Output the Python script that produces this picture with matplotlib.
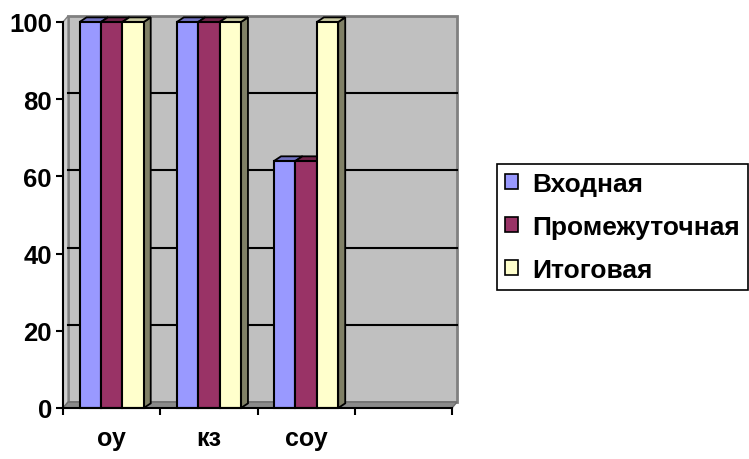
import matplotlib
matplotlib.use("Agg")
import matplotlib.pyplot as plt
from matplotlib.patches import Polygon, Patch

plt.rcParams['font.family'] = ['Liberation Sans', 'DejaVu Sans']
plt.rcParams['font.weight'] = 'bold'

categories = ['оу', 'кз', 'соу', '']
series_names = ['Входная', 'Промежуточная', 'Итоговая']
vhodnaya = [100, 100, 64]
promezh = [100, 100, 64]
itogovaya = [100, 100, 100]
values = [vhodnaya, promezh, itogovaya]

front_colors = ['#9999FF', '#993366', '#FFFFCC']
top_colors = ['#7070C0', '#70244A', '#C8C8A0']
side_colors = ['#5C5C99', '#5C1F3D', '#808066']

fig = plt.figure(figsize=(7.49, 4.60), dpi=100)
ax = fig.add_axes([63 / 749, 51 / 460, 389 / 749, 386 / 460])
ax.set_xlim(-0.5, 3.5)
ax.set_ylim(0, 100)

# 3d offsets (data units)
wdx, wdy = 0.052, 1.55     # walls
bdx, bdy = 0.072, 1.2      # bars
bw = 0.22

# back wall
ax.add_patch(Polygon([(-0.5 + wdx, wdy), (3.5 + wdx, wdy), (3.5 + wdx, 100 + wdy),
                      (-0.5 + wdx, 100 + wdy)], closed=True, facecolor='#C0C0C0',
                     edgecolor='#808080', lw=2, clip_on=False, zorder=1))
# left side wall
ax.add_patch(Polygon([(-0.5, 0), (-0.5, 100), (-0.5 + wdx, 100 + wdy), (-0.5 + wdx, wdy)],
                     closed=True, facecolor='#CFCFCF', edgecolor='#808080', lw=1,
                     clip_on=False, zorder=1.5))
# floor
ax.add_patch(Polygon([(-0.5, 0), (3.5, 0), (3.5 + wdx, wdy), (-0.5 + wdx, wdy)],
                     closed=True, facecolor='#8A8A8A', edgecolor='#6E6E6E', lw=1,
                     clip_on=False, zorder=1.5))
# gridlines on wall
for v in [20, 40, 60, 80]:
    ax.plot([-0.5 + wdx, 3.5 + wdx], [v + wdy, v + wdy], color='black', lw=1.5,
            clip_on=False, zorder=2)

# bars
for ci in range(len(vhodnaya)):
    for si in range(3):
        v = values[si][ci]
        x0 = ci - 1.5 * bw + si * bw
        x1 = x0 + bw
        side = Polygon([(x1, 0), (x1 + bdx, bdy), (x1 + bdx, v + bdy), (x1, v)],
                       closed=True, facecolor=side_colors[si], edgecolor='black',
                       lw=1.3, clip_on=False, zorder=3)
        top = Polygon([(x0, v), (x0 + bdx, v + bdy), (x1 + bdx, v + bdy), (x1, v)],
                      closed=True, facecolor=top_colors[si], edgecolor='black',
                      lw=1.3, clip_on=False, zorder=3)
        front = Polygon([(x0, 0), (x1, 0), (x1, v), (x0, v)], closed=True,
                        facecolor=front_colors[si], edgecolor='black', lw=1.5,
                        clip_on=False, zorder=3)
        ax.add_patch(side)
        ax.add_patch(top)
        ax.add_patch(front)

for s in ['top', 'right']:
    ax.spines[s].set_visible(False)
for s in ['left', 'bottom']:
    ax.spines[s].set_linewidth(1.5)
    ax.spines[s].set_zorder(4)

ax.set_yticks([0, 20, 40, 60, 80, 100])
ax.tick_params(axis='y', direction='out', length=5, width=1.5, labelsize=18.5, pad=3)
ax.set_xticks([-0.5, 0.5, 1.5, 2.5, 3.5])
ax.set_xticklabels([])
ax.tick_params(axis='x', which='major', direction='out', length=5, width=1.5)
ax.set_xticks([0, 1, 2, 3], minor=True)
ax.set_xticklabels(categories, minor=True)
ax.tick_params(axis='x', which='minor', length=0, labelsize=18, pad=13)
for lab in ax.get_yticklabels() + ax.get_xticklabels(minor=True):
    lab.set_fontweight('bold')

handles = [Patch(facecolor=c, edgecolor='black', lw=1.2) for c in front_colors]
leg = fig.legend(handles, series_names, loc='center left',
                 bbox_to_anchor=(497 / 749, 0.505), frameon=True, fancybox=False,
                 framealpha=1, edgecolor='black', fontsize=19, handlelength=0.5,
                 handleheight=0.5, handletextpad=0.55, labelspacing=0.72,
                 borderpad=0.3, borderaxespad=0)
leg.get_frame().set_linewidth(1.2)
for t in leg.get_texts():
    t.set_fontweight('bold')

fig.savefig('out.png', dpi=100)
